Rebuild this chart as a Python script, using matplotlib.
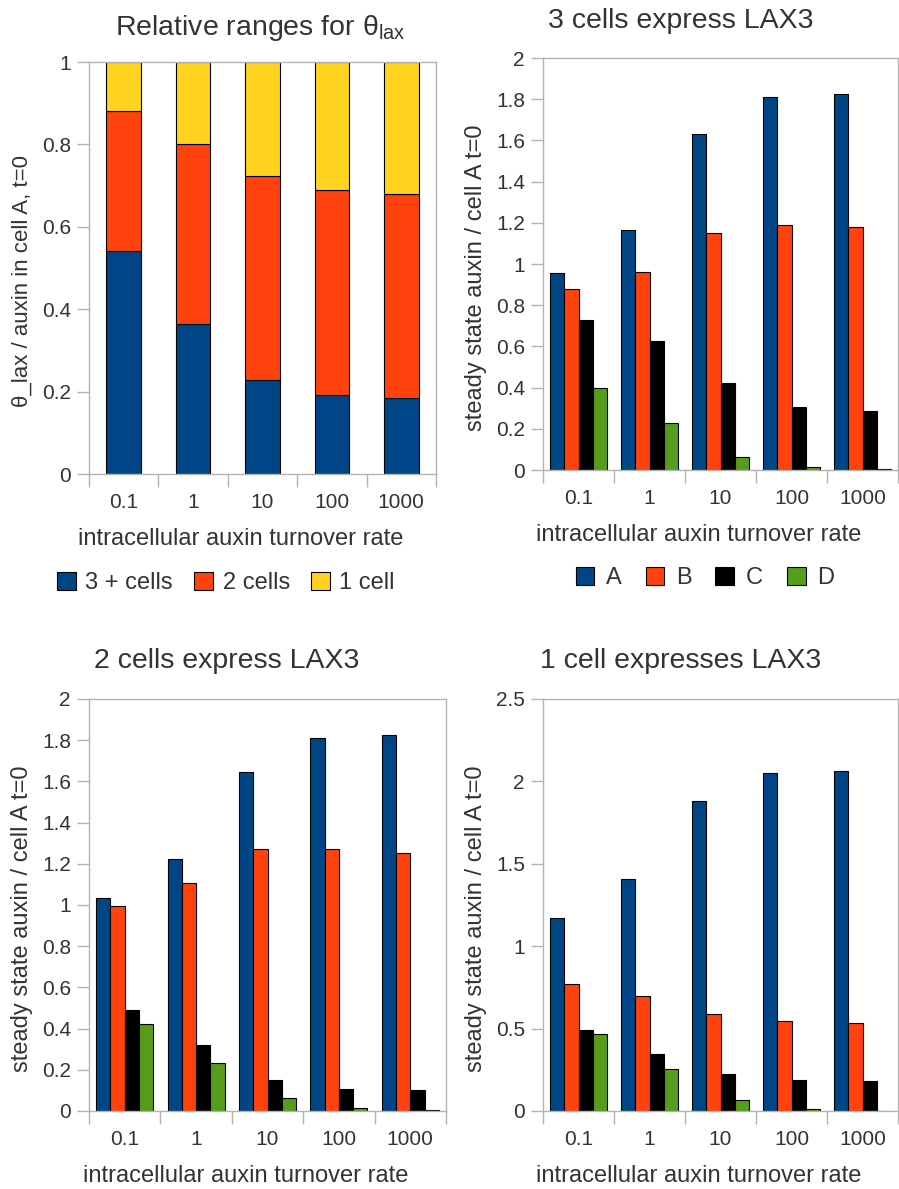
import numpy as np
import matplotlib
matplotlib.use("Agg")
import matplotlib.pyplot as plt

plt.rcParams['font.family'] = ['Liberation Sans', 'DejaVu Sans']
plt.rcParams['mathtext.fontset'] = 'custom'
plt.rcParams['mathtext.rm'] = 'Liberation Sans'

rates = ['0.1', '1', '10', '100', '1000']

# relative ranges for theta_lax (stacked)
rel_3plus = [0.541, 0.364, 0.228, 0.191, 0.184]
rel_2 = [0.340, 0.436, 0.495, 0.498, 0.495]
rel_1 = [0.119, 0.200, 0.277, 0.311, 0.321]
rel_names = ['3 + cells', '2 cells', '1 cell']

cells = ['A', 'B', 'C', 'D']
# 3 cells express LAX3
three_A = [0.957, 1.165, 1.631, 1.810, 1.826]
three_B = [0.878, 0.960, 1.149, 1.188, 1.178]
three_C = [0.730, 0.628, 0.420, 0.308, 0.288]
three_D = [0.400, 0.228, 0.065, 0.015, 0.004]
# 2 cells express LAX3
two_A = [1.034, 1.225, 1.644, 1.812, 1.827]
two_B = [0.993, 1.105, 1.272, 1.273, 1.252]
two_C = [0.492, 0.322, 0.152, 0.108, 0.103]
two_D = [0.422, 0.234, 0.063, 0.013, 0.004]
# 1 cell expresses LAX3
one_A = [1.172, 1.407, 1.882, 2.051, 2.062]
one_B = [0.768, 0.695, 0.590, 0.546, 0.535]
one_C = [0.493, 0.348, 0.226, 0.190, 0.180]
one_D = [0.465, 0.255, 0.067, 0.012, 0.003]

colors = ['#004586', '#ff420e', '#000000', '#579d1c']
stack_colors = ['#004586', '#ff420e', '#ffd320']
txt = '#333333'
frame = '#b3b3b3'

W, H = 899, 1189
fig = plt.figure(figsize=(W / 100, H / 100), dpi=100)


def px_axes(l, t, r, b):
    ax = fig.add_axes([l / W, 1 - b / H, (r - l) / W, (b - t) / H])
    ax.wpx = r - l
    return ax


def style(ax, ymax, step):
    x = np.arange(len(rates))
    ax.set_xlim(-0.5, len(rates) - 0.5)
    ax.set_ylim(0, ymax)
    ax.set_yticks(np.arange(0, ymax + step / 2, step))
    ax.set_yticklabels(['%g' % v for v in np.arange(0, ymax + step / 2, step)])
    ax.set_xticks(x)
    ax.set_xticklabels(rates)
    ax.set_xticks(np.arange(-0.5, len(rates)), minor=True)
    ax.tick_params(axis='x', which='major', length=0, pad=14, labelsize=15, colors=txt)
    ax.tick_params(axis='x', which='minor', length=9, width=1, color=frame)
    ax.tick_params(axis='y', length=9, width=1, color=frame, labelsize=15,
                   labelcolor=txt, pad=4)
    for s in ax.spines.values():
        s.set_color(frame)
        s.set_linewidth(1)
    ax.set_xlabel('intracellular auxin turnover rate', fontsize=17, color=txt, labelpad=11)
    # axis title sits a bit left of the plot centre
    ax.xaxis.label.set_x(0.5 - 22 / ax.wpx)


# top-left: stacked
ax1 = px_axes(89, 62, 436, 474)
x = np.arange(len(rates))
bottom = np.zeros(len(rates))
for vals, c, name in zip([rel_3plus, rel_2, rel_1], stack_colors, rel_names):
    ax1.bar(x, vals, 0.5, bottom=bottom, color=c, edgecolor='black', linewidth=0.8, label=name)
    bottom += np.array(vals)
style(ax1, 1, 0.2)
ax1.set_ylabel('θ_lax / auxin in cell A, t=0', fontsize=16, color=txt)
ax1.yaxis.set_label_coords(-56 / ax1.wpx, 0.468)
ax1.legend(loc='center', bbox_to_anchor=(226 / W, 1 - 583 / H), bbox_transform=fig.transFigure,
           ncol=3, frameon=False, fontsize=17, handlelength=0.8, handleheight=0.8,
           handletextpad=0.4, columnspacing=0.9, labelcolor=txt)
fig.text(260 / W, 1 - 35 / H, 'Relative ranges for θ$_\\mathrm{lax}$', ha='center',
         va='baseline', fontsize=20.5, color=txt)


def grouped(ax, series, ymax, step):
    for i, (vals, c) in enumerate(zip(series, colors)):
        ax.bar(x + (i - 1.5) * 0.2, vals, 0.2, color=c, edgecolor='black', linewidth=0.8,
               label=cells[i])
    style(ax, ymax, step)
    ax.set_ylabel('steady state auxin / cell A t=0', fontsize=17, color=txt)
    ax.yaxis.set_label_coords(-56 / ax.wpx, 0.467)


ax2 = px_axes(543, 58, 898, 470)
grouped(ax2, [three_A, three_B, three_C, three_D], 2, 0.2)
ax2.legend(loc='center', bbox_to_anchor=(705 / W, 1 - 578 / H), bbox_transform=fig.transFigure,
           ncol=4, frameon=False, fontsize=17, handlelength=0.8, handleheight=0.8,
           handletextpad=0.5, columnspacing=1.0, labelcolor=txt)
fig.text(681 / W, 1 - 28 / H, '3 cells express LAX3', ha='center', va='baseline',
         fontsize=20.5, color=txt)

ax3 = px_axes(89, 699, 446, 1111)
grouped(ax3, [two_A, two_B, two_C, two_D], 2, 0.2)
fig.text(227 / W, 1 - 668 / H, '2 cells express LAX3', ha='center', va='baseline',
         fontsize=20.5, color=txt)

ax4 = px_axes(543, 699, 898, 1111)
grouped(ax4, [one_A, one_B, one_C, one_D], 2.5, 0.5)
fig.text(681 / W, 1 - 668 / H, '1 cell expresses LAX3', ha='center', va='baseline',
         fontsize=20.5, color=txt)

fig.savefig('out.png', dpi=100)
